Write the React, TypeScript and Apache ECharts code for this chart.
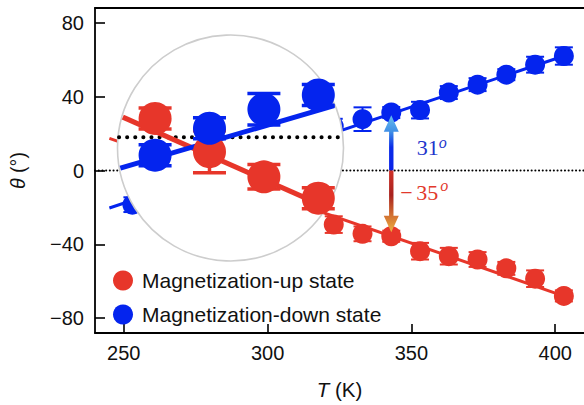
import React, { useEffect, useRef } from 'react';
import * as echarts from 'echarts';

// ---------- data ----------
const temperatures = [253, 263, 273, 283, 293, 303, 313, 323, 333, 343, 353, 363, 373, 383, 393, 403];
const upTheta = [13, 7, 1, -4, -11, -17, -23, -29.3, -34.3, -35.6, -43.7, -46.4, -48.2, -53, -58.6, -67.9];
const upErr = [4, 4, 4, 4, 4, 4, 4, 4.5, 4, 3, 4.5, 4.5, 4, 3.5, 4.5, 3];
const downTheta = [-18.5, -15, -9, -3, 6, 12, 19, 24, 27.8, 31.4, 32.7, 42.2, 46.5, 51.9, 57.3, 62];
const downErr = [4, 4, 4, 4, 4, 4, 4, 4, 6.4, 3, 4.5, 3.5, 3.5, 3, 4.3, 4.7];

const fitT = [245, 403];
const upFit = [17.4, -68];
const downFit = [-20.3, 62];

const insetT = [263, 273, 283, 293];
const insetUp = [5.4, -4.1, -11.3, -17.4];
const insetUpErr = [3, 6, 3.5, 3];
const insetDown = [-5.1, 2.6, 8.0, 12.1];
const insetDownErr = [3, 3, 4.5, 3];
const insetFitT = [256, 298];
const insetUpFit = [6.5, -22.4];
const insetDownFit = [-9.1, 10.0];

const arrowT = 343;
const arrowUpValue = 31;
const arrowDownValue = -35;

const xTicks = [250, 300, 350, 400];
const yTicks = [-80, -40, 0, 40, 80];

const upName = 'Magnetization-up state';
const downName = 'Magnetization-down state';

// ---------- styles / layout ----------
const RED = '#e7362a';
const BLUE = '#0424ee';
const CIRCLE = { cx: 230.5, cy: 148, r: 113 };
const SANS = 'Liberation Sans, Arial, Helvetica, sans-serif';
const SERIF = 'Liberation Serif, Times New Roman, serif';

function clipToCircle(p1: number[], p2: number[]) {
  const dx = p2[0] - p1[0];
  const dy = p2[1] - p1[1];
  const fx = p1[0] - CIRCLE.cx;
  const fy = p1[1] - CIRCLE.cy;
  const r = CIRCLE.r - 1;
  const a = dx * dx + dy * dy;
  const b = 2 * (fx * dx + fy * dy);
  const c = fx * fx + fy * fy - r * r;
  const disc = b * b - 4 * a * c;
  if (disc < 0) return null;
  const s = Math.sqrt(disc);
  const t1 = (-b - s) / (2 * a);
  const t2 = (-b + s) / (2 * a);
  return [p1[0] + t1 * dx, p1[1] + t1 * dy, p1[0] + t2 * dx, p1[1] + t2 * dy];
}

function errorBarSeries(
  values: number[][],
  color: string,
  capHalf: number,
  lineWidth: number,
  xAxisIndex: number,
  yAxisIndex: number,
  z: number
) {
  return {
    type: 'custom',
    xAxisIndex,
    yAxisIndex,
    z,
    silent: true,
    encode: { x: 0, y: [1, 2] },
    data: values,
    renderItem: (_params: any, api: any) => {
      const lo = api.coord([api.value(0), api.value(1)]);
      const hi = api.coord([api.value(0), api.value(2)]);
      const style = { stroke: color, lineWidth };
      return {
        type: 'group',
        children: [
          { type: 'line', shape: { x1: lo[0], y1: lo[1], x2: hi[0], y2: hi[1] }, style },
          { type: 'line', shape: { x1: lo[0] - capHalf, y1: lo[1], x2: lo[0] + capHalf, y2: lo[1] }, style },
          { type: 'line', shape: { x1: hi[0] - capHalf, y1: hi[1], x2: hi[0] + capHalf, y2: hi[1] }, style },
        ],
      };
    },
  };
}

function clippedLineSeries(
  seg: number[],
  color: string,
  lineWidth: number,
  z: number,
  dash?: number[]
) {
  return {
    type: 'custom',
    xAxisIndex: 2,
    yAxisIndex: 1,
    z,
    silent: true,
    encode: { x: [0, 2], y: [1, 3] },
    data: [seg],
    renderItem: (_params: any, api: any) => {
      const p1 = api.coord([api.value(0), api.value(1)]);
      const p2 = api.coord([api.value(2), api.value(3)]);
      const c = clipToCircle(p1, p2);
      if (!c) return null;
      return {
        type: 'line',
        shape: { x1: c[0], y1: c[1], x2: c[2], y2: c[3] },
        style: {
          stroke: color,
          lineWidth,
          lineDash: dash || null,
          lineCap: dash ? 'round' : 'butt',
        },
      };
    },
  };
}

export default function App() {
  const ref = useRef<HTMLDivElement>(null);

  useEffect(() => {
    if (!ref.current) return;
    const chart = echarts.init(ref.current, null, { renderer: 'svg' });

    const upPoints = temperatures.map((t, i) => [t, upTheta[i]]);
    const downPoints = temperatures.map((t, i) => [t, downTheta[i]]);
    const upBars = temperatures.map((t, i) => [t, upTheta[i] - upErr[i], upTheta[i] + upErr[i]]);
    const downBars = temperatures.map((t, i) => [t, downTheta[i] - downErr[i], downTheta[i] + downErr[i]]);
    const insetUpPoints = insetT.map((t, i) => [t, insetUp[i]]);
    const insetDownPoints = insetT.map((t, i) => [t, insetDown[i]]);
    const insetUpBars = insetT.map((t, i) => [t, insetUp[i] - insetUpErr[i], insetUp[i] + insetUpErr[i]]);
    const insetDownBars = insetT.map((t, i) => [t, insetDown[i] - insetDownErr[i], insetDown[i] + insetDownErr[i]]);

    const axisLineStyle = { color: '#000', width: 1.8 };

    const option: any = {
      animation: false,
      backgroundColor: '#ffffff',
      grid: [
        { left: 94, top: 8, right: 0, bottom: 69 },
        { left: 117, top: 32.4, width: 228.5, height: 230.8 },
      ],
      xAxis: [
        {
          type: 'value',
          gridIndex: 0,
          min: 240,
          max: 410,
          position: 'bottom',
          splitLine: { show: false },
          axisLine: { show: true, onZero: false, lineStyle: axisLineStyle },
          axisTick: { show: true, inside: true, length: 9, lineStyle: { color: '#000', width: 1.6 }, customValues: xTicks },
          axisLabel: { customValues: xTicks, margin: 10, fontSize: 20, color: '#111', fontFamily: SANS },
          name: '{i|T} (K)',
          nameLocation: 'middle',
          nameGap: 46,
          nameTextStyle: {
            fontSize: 20.5,
            color: '#111',
            fontFamily: SANS,
            rich: { i: { fontStyle: 'italic', fontSize: 20.5, fontFamily: SANS, color: '#111' } },
          },
        },
        {
          type: 'value',
          gridIndex: 0,
          min: 240,
          max: 410,
          position: 'top',
          splitLine: { show: false },
          axisLine: { show: true, onZero: false, lineStyle: axisLineStyle },
          axisTick: { show: false },
          axisLabel: { show: false },
        },
        {
          type: 'value',
          gridIndex: 1,
          min: insetFitT[0],
          max: insetFitT[1],
          show: false,
        },
      ],
      yAxis: [
        {
          type: 'value',
          gridIndex: 0,
          min: -88,
          max: 88,
          splitLine: { show: false },
          axisLine: { show: true, onZero: false, lineStyle: axisLineStyle },
          axisTick: { show: true, inside: true, length: 10, lineStyle: { color: '#000', width: 1.6 }, customValues: yTicks },
          axisLabel: {
            customValues: yTicks,
            margin: 11,
            fontSize: 20,
            color: '#111',
            fontFamily: SANS,
            formatter: (v: number) => (v < 0 ? '\u2212' + Math.abs(v) : String(v)),
          },
          name: '{i|\u03b8} (\u00b0)',
          nameLocation: 'middle',
          nameGap: 67,
          nameRotate: 90,
          nameTextStyle: {
            fontSize: 19.5,
            color: '#111',
            fontFamily: SANS,
            rich: { i: { fontStyle: 'italic', fontSize: 19.5, fontFamily: SANS, color: '#111' } },
          },
        },
        {
          type: 'value',
          gridIndex: 1,
          min: -36,
          max: 30,
          show: false,
        },
      ],
      legend: {
        data: [upName, downName],
        orient: 'vertical',
        left: 113,
        top: 270,
        padding: 0,
        itemGap: 13,
        itemWidth: 20,
        itemHeight: 20,
        icon: 'circle',
        textStyle: { fontSize: 21, color: '#111', fontFamily: SANS, padding: [0, 0, 0, 4] },
      },
      graphic: {
        elements: [
          {
            type: 'circle',
            z: 50,
            silent: true,
            shape: { cx: CIRCLE.cx, cy: CIRCLE.cy, r: CIRCLE.r },
            style: { fill: '#ffffff', stroke: '#cdcdcd', lineWidth: 1.6 },
          },
        ],
      },
      series: [
        // main zero line
        {
          type: 'line',
          xAxisIndex: 0,
          yAxisIndex: 0,
          data: [[240, 0], [410, 0]],
          showSymbol: false,
          silent: true,
          z: 1,
          lineStyle: { color: '#000', width: 2, type: [0.1, 3.6], cap: 'round' },
        },
        // main fit lines
        {
          type: 'line',
          xAxisIndex: 0,
          yAxisIndex: 0,
          data: fitT.map((t, i) => [t, upFit[i]]),
          showSymbol: false,
          silent: true,
          z: 2,
          lineStyle: { color: RED, width: 3 },
        },
        {
          type: 'line',
          xAxisIndex: 0,
          yAxisIndex: 0,
          data: fitT.map((t, i) => [t, downFit[i]]),
          showSymbol: false,
          silent: true,
          z: 2,
          lineStyle: { color: BLUE, width: 3 },
        },
        errorBarSeries(upBars, RED, 9, 2, 0, 0, 3),
        errorBarSeries(downBars, BLUE, 9, 2, 0, 0, 3),
        {
          type: 'scatter',
          name: upName,
          xAxisIndex: 0,
          yAxisIndex: 0,
          data: upPoints,
          symbol: 'circle',
          symbolSize: 20,
          z: 4,
          itemStyle: { color: RED, opacity: 1 },
        },
        {
          type: 'scatter',
          name: downName,
          xAxisIndex: 0,
          yAxisIndex: 0,
          data: downPoints,
          symbol: 'circle',
          symbolSize: 20,
          z: 4,
          itemStyle: { color: BLUE, opacity: 1 },
        },
        // arrows and labels
        {
          type: 'custom',
          xAxisIndex: 0,
          yAxisIndex: 0,
          z: 8,
          silent: true,
          encode: { x: 0, y: [1, 2, 3] },
          data: [[arrowT, 0, arrowUpValue, arrowDownValue]],
          renderItem: (_params: any, api: any) => {
            const zero = api.coord([api.value(0), api.value(1)]);
            const top = api.coord([api.value(0), api.value(2)]);
            const bot = api.coord([api.value(0), api.value(3)]);
            const x = zero[0];
            const sw = 2.2;
            const hw = 7.5;
            const hl = 16.5;
            const tipUp = top[1] + 2;
            const tipDown = bot[1] - 3;
            const upPoly = [
              [x - sw, zero[1]],
              [x - sw, tipUp + hl],
              [x - hw, tipUp + hl],
              [x, tipUp],
              [x + hw, tipUp + hl],
              [x + sw, tipUp + hl],
              [x + sw, zero[1]],
            ];
            const downPoly = [
              [x - sw, zero[1]],
              [x - sw, tipDown - hl],
              [x - hw, tipDown - hl],
              [x, tipDown],
              [x + hw, tipDown - hl],
              [x + sw, tipDown - hl],
              [x + sw, zero[1]],
            ];
            const upGrad = new echarts.graphic.LinearGradient(0, 0, 0, 1, [
              { offset: 0, color: '#68bdee' },
              { offset: 0.3, color: '#3f8fe6' },
              { offset: 0.58, color: '#0a2ce8' },
              { offset: 1, color: '#0a22e8' },
            ]);
            const downGrad = new echarts.graphic.LinearGradient(0, 0, 0, 1, [
              { offset: 0, color: '#cf3128' },
              { offset: 0.4, color: '#a8221e' },
              { offset: 0.7, color: '#cf6a30' },
              { offset: 1, color: '#eeb040' },
            ]);
            const blueTxt = '#2234cc';
            const redTxt = '#e2392c';
            return {
              type: 'group',
              children: [
                { type: 'polygon', shape: { points: upPoly }, style: { fill: upGrad } },
                { type: 'polygon', shape: { points: downPoly }, style: { fill: downGrad } },
                {
                  type: 'text',
                  style: {
                    text: String(arrowUpValue),
                    x: x + 25.5,
                    y: zero[1] - 22.8,
                    fill: blueTxt,
                    font: '22px ' + SERIF,
                    align: 'left',
                    verticalAlign: 'middle',
                  },
                },
                {
                  type: 'text',
                  style: {
                    text: 'o',
                    x: x + 47.5,
                    y: zero[1] - 28.5,
                    fill: blueTxt,
                    font: 'italic 16px ' + SERIF,
                    align: 'left',
                    verticalAlign: 'middle',
                  },
                },
                {
                  type: 'text',
                  style: {
                    text: '\u2212',
                    x: x + 9,
                    y: zero[1] + 22,
                    fill: redTxt,
                    font: '22px ' + SERIF,
                    align: 'left',
                    verticalAlign: 'middle',
                  },
                },
                {
                  type: 'text',
                  style: {
                    text: String(Math.abs(arrowDownValue)),
                    x: x + 25,
                    y: zero[1] + 22,
                    fill: redTxt,
                    font: '22px ' + SERIF,
                    align: 'left',
                    verticalAlign: 'middle',
                  },
                },
                {
                  type: 'text',
                  style: {
                    text: 'o',
                    x: x + 49,
                    y: zero[1] + 15,
                    fill: redTxt,
                    font: 'italic 16px ' + SERIF,
                    align: 'left',
                    verticalAlign: 'middle',
                  },
                },
              ],
            };
          },
        },
        // inset
        clippedLineSeries([insetFitT[0], 0, insetFitT[1], 0], '#000', 4, 60, [0.1, 8]),
        clippedLineSeries([insetFitT[0], insetUpFit[0], insetFitT[1], insetUpFit[1]], RED, 5, 61),
        clippedLineSeries([insetFitT[0], insetDownFit[0], insetFitT[1], insetDownFit[1]], BLUE, 5, 61),
        errorBarSeries(insetUpBars, RED, 16.5, 3.5, 2, 1, 62),
        {
          type: 'scatter',
          xAxisIndex: 2,
          yAxisIndex: 1,
          data: insetUpPoints,
          symbol: 'circle',
          symbolSize: 33,
          z: 63,
          silent: true,
          itemStyle: { color: RED, opacity: 1 },
        },
        errorBarSeries(insetDownBars, BLUE, 16.5, 3.5, 2, 1, 64),
        {
          type: 'scatter',
          xAxisIndex: 2,
          yAxisIndex: 1,
          data: insetDownPoints,
          symbol: 'circle',
          symbolSize: 33,
          z: 65,
          silent: true,
          itemStyle: { color: BLUE, opacity: 1 },
        },
      ],
    };

    chart.setOption(option);
    return () => {
      chart.dispose();
    };
  }, []);

  return (
    <div
      ref={ref}
      style={{ position: 'fixed', left: 0, top: 0, width: 584, height: 405, background: '#fff' }}
    />
  );
}
